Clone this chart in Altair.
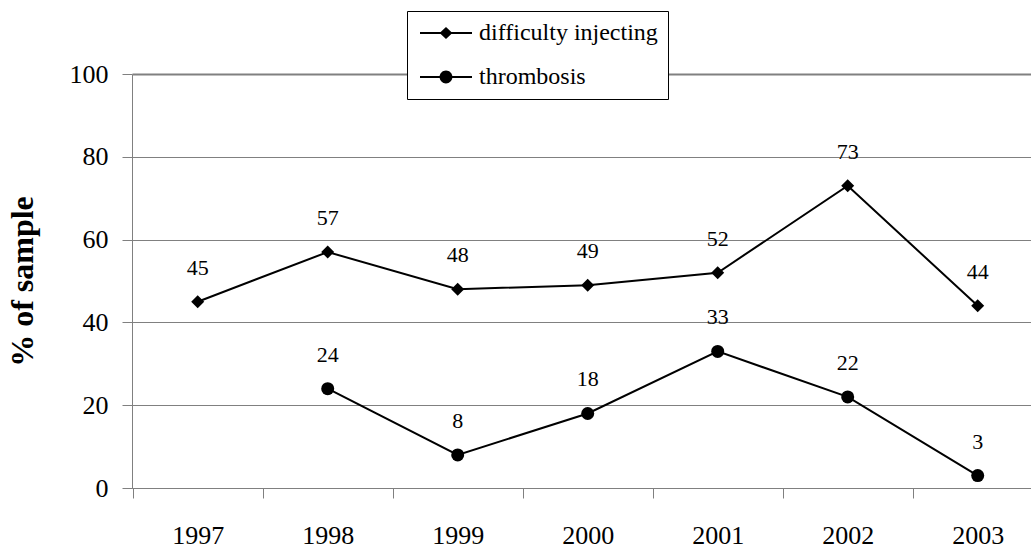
import altair as alt
import pandas as pd

# Survey results: share of the sample reporting each injecting problem
years = [1997, 1998, 1999, 2000, 2001, 2002, 2003]
difficulty_injecting = [45, 57, 48, 49, 52, 73, 44]
thrombosis = [None, 24, 8, 18, 33, 22, 3]
series_names = ["difficulty injecting", "thrombosis"]
y_ticks = [0, 20, 40, 60, 80, 100]

rows = []
for name, vals in zip(series_names, [difficulty_injecting, thrombosis]):
    for yr, v in zip(years, vals):
        if v is not None:
            rows.append({"year": yr, "series": name, "value": v})
df = pd.DataFrame(rows)

FONT = "Liberation Serif"
STEP = 130          # pixels per year category
PLOT_W = 899
PLOT_H = 414
x_lo = 1997 - 65.7 / STEP
x_hi = x_lo + PLOT_W / STEP

x_enc = alt.X(
    "year:Q",
    scale=alt.Scale(domain=[x_lo, x_hi], nice=False, zero=False),
    axis=alt.Axis(
        values=years, format="d", title=None,
        tickOffset=-65, labelOffset=65,
        tickSize=10, labelPadding=24,
        labelFont=FONT, labelFontSize=26, labelColor="black",
        domainColor="#808080", tickColor="#808080",
        labelFlush=False, labelOverlap=False, labelBound=False,
        grid=False,
    ),
)
y_enc = alt.Y(
    "value:Q",
    scale=alt.Scale(domain=[0, 100], nice=False),
    axis=alt.Axis(
        values=y_ticks, title="% of sample",
        tickSize=10, labelPadding=14,
        labelFont=FONT, labelFontSize=26, labelColor="black",
        titleFont=FONT, titleFontSize=32, titleFontWeight="bold", titleColor="black",
        titleAngle=270, titleBaseline="middle", titleAlign="center",
        titleX=-110, titleY=PLOT_H / 2,
        domainColor="#808080", tickColor="#808080",
        grid=True, gridColor="#808080",
        gridWidth={"condition": {"test": "datum.value === 100", "value": 2}, "value": 1},
    ),
)

base = alt.Chart(df)

lines = base.mark_line(color="black", strokeWidth=2).encode(
    x=x_enc, y=y_enc, detail="series:N"
)

markers = base.mark_point(filled=True, size=169, color="black", opacity=1).encode(
    x=x_enc, y=y_enc,
    shape=alt.Shape("series:N",
                    scale=alt.Scale(domain=series_names, range=["diamond", "circle"]),
                    legend=None),
)

# legend glyphs: a short bar on each side of the series marker, all filled shapes
diamond_key = ("M-2.6,-0.1L-0.4,-0.1L-0.4,0.1L-2.6,0.1Z"
               "M0.4,-0.1L2.6,-0.1L2.6,0.1L0.4,0.1Z"
               "M0,-0.6L0.64,0L0,0.6L-0.64,0Z")
circle_key = ("M-2.6,-0.1L-0.4,-0.1L-0.4,0.1L-2.6,0.1Z"
              "M0.4,-0.1L2.6,-0.1L2.6,0.1L0.4,0.1Z"
              "M-0.64,0A0.64,0.64,0,1,1,0.64,0A0.64,0.64,0,1,1,-0.64,0Z")

legend_keys = base.mark_point(filled=True, color="black", opacity=0).encode(
    x=x_enc, y=y_enc,
    shape=alt.Shape(
        "series:N",
        scale=alt.Scale(domain=series_names, range=[diamond_key, circle_key]),
        legend=alt.Legend(
            title=None, orient="none", legendX=275, legendY=-63,
            padding=10, strokeColor="black", fillColor="white", cornerRadius=0,
            symbolSize=400, symbolFillColor="black", symbolStrokeWidth=0,
            symbolOpacity=1, symbolOffset=17,
            labelOffset=21, labelFont=FONT, labelFontSize=24, labelColor="black",
            labelLimit=0, rowPadding=20,
        ),
    ),
)

labels = base.mark_text(dy=-34, fontSize=22, font=FONT, color="black").encode(
    x=x_enc, y=y_enc, text="value:Q"
)

chart = (
    alt.layer(lines, markers, legend_keys, labels)
    .resolve_scale(shape="independent")
    .properties(
        width=PLOT_W, height=PLOT_H,
        autosize=alt.AutoSizeParams(type="none"),
        padding={"left": 132, "top": 74, "right": 0, "bottom": 64},
        background="white",
    )
    .configure_view(stroke=None)
)

chart.save("out.html", embed_options={"renderer": "svg", "actions": False})
